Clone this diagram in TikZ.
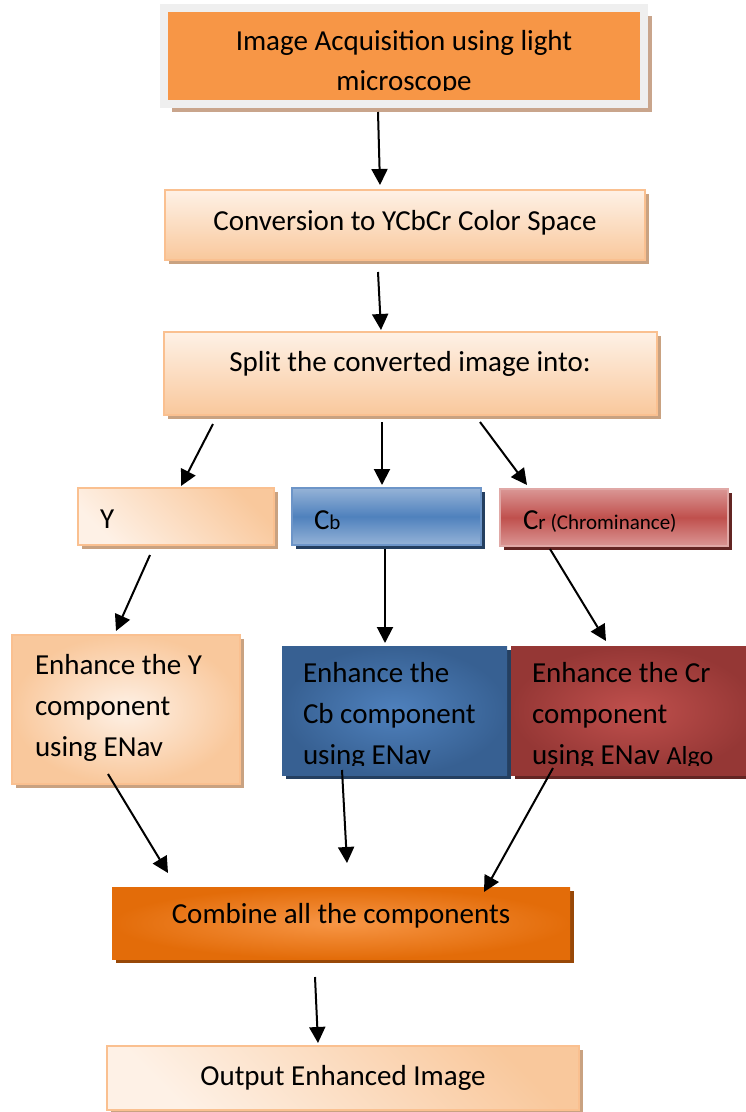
\documentclass[tikz,border=0pt]{standalone}
\usepackage{fontspec}
\setmainfont{Carlito}
\usetikzlibrary{arrows.meta,shadows,calc}
\definecolor{orgA}{HTML}{F79646}
\definecolor{orgB}{HTML}{E36C09}
\definecolor{orgS}{HTML}{984807}
\definecolor{frameC}{HTML}{EFEFEF}
\definecolor{frameS}{HTML}{C9A58C}
\definecolor{peachL}{HTML}{FEF1E6}
\definecolor{peachD}{HTML}{F9C89C}
\definecolor{peachB}{HTML}{FAC090}
\definecolor{peachS}{HTML}{C9A281}
\definecolor{blueL}{HTML}{95B3D7}
\definecolor{blueM}{HTML}{4F81BD}
\definecolor{blueD}{HTML}{376092}
\definecolor{blueB}{HTML}{6D95C8}
\definecolor{blueS}{HTML}{243F60}
\definecolor{redL}{HTML}{DA9694}
\definecolor{redM}{HTML}{C0504D}
\definecolor{redD}{HTML}{953735}
\definecolor{redB}{HTML}{E0A8A6}
\definecolor{redS}{HTML}{632523}
\newcommand\mylines[1]{\begin{tabular}[t]{@{}l@{}}#1\end{tabular}}
\newcommand\myclines[1]{\begin{tabular}[t]{@{}c@{}}#1\end{tabular}}
\newcommand\smallf{\fontsize{21}{24}\selectfont}
\newcommand\bigC{\fontsize{29}{38}\selectfont}
\begin{document}
\begin{tikzpicture}[x=1pt,y=-1pt,
  box/.style={rectangle,inner sep=0pt,outer sep=0pt,anchor=north west},
  sh/.style={general shadow={fill=#1,shadow xshift=4pt,shadow yshift=-4pt}},
  peachbox/.style={box,draw=peachB,line width=1.5pt,sh=peachS},
  peachv/.style={peachbox,top color=peachL,bottom color=peachD},
  peachdiag/.style={peachbox,top color=peachD,bottom color=peachL,shading angle=-45},
  peachrad/.style={peachbox,inner color=peachL,outer color=peachD},
  bluebar/.style={box,draw=blueB,line width=1.5pt,top color=blueL,bottom color=blueL,middle color=blueM,sh=blueS},
  redbar/.style={box,draw=redB,line width=1.5pt,top color=redL,bottom color=redL,middle color=redM,sh=redS},
  bluerad/.style={box,inner color=blueM,outer color=blueD,sh=blueS},
  redrad/.style={box,inner color=redM,outer color=redD,sh=redS},
  orgrad/.style={box,inner color=orgA,outer color=orgB,sh=orgS},
  txt/.style={inner sep=0pt,outer sep=0pt,font=\fontsize{29}{41}\selectfont},
  arr/.style={line width=2pt,-{Triangle[length=16pt,width=16pt]}},
]
\useasboundingbox (0,0) rectangle (746,1112);
\fill[white] (0,0) rectangle (746,1112);

% boxes
\node[box,fill=orgA,draw=frameC,line width=8pt,minimum width=480pt,minimum height=96pt,
  general shadow={fill=frameS,shadow xshift=8pt,shadow yshift=-8pt}] (top) at (164,8) {};
\node[peachv,minimum width=480pt,minimum height=70pt] (conv) at (165,190) {};
\node[peachv,minimum width=493pt,minimum height=83pt] (split) at (164,332) {};
\node[peachdiag,minimum width=196pt,minimum height=57pt] (ybox) at (78,488) {};
\node[bluebar,minimum width=189pt,minimum height=57pt] (cbbox) at (292,488) {};
\node[redbar,minimum width=228pt,minimum height=57pt] (crbox) at (500,489) {};
\node[peachrad,minimum width=228pt,minimum height=149pt] (enhy) at (12,635) {};
\node[bluerad,minimum width=225pt,minimum height=129pt] (enhcb) at (282,646) {};
\node[redrad,minimum width=245pt,minimum height=129pt] (enhcr) at (511,646) {};
\node[orgrad,minimum width=458pt,minimum height=72pt] (comb) at (112,887) {};
\node[peachdiag,minimum width=472pt,minimum height=64pt] (outp) at (107,1046) {};

% texts
\begin{scope}
  \clip (168,12) rectangle (640,90);
  \node[txt,anchor=base,font=\fontsize{29}{40}\selectfont] (toptext) at (404,50)
    {\myclines{Image Acquisition using light\\microscope}};
\end{scope}
\node[txt,anchor=base] (convtext) at (405,230) {Conversion to YCbCr Color Space};
\node[txt,anchor=base] (splittext) at (410,371) {Split the converted image into:};
\node[txt,anchor=base west] (ytext) at (100,528) {Y};
\node[txt,anchor=base west] (cbtext) at (314,529) {{\bigC C}{\smallf b}};
\node[txt,anchor=base west] (crtext) at (523,529) {{\bigC C}{\smallf r (Chrominance)}};
\node[txt,anchor=base west] (enhytext) at (35,674)
  {\mylines{Enhance the Y\\component\\using ENav}};
\begin{scope}
  \clip (282,646) rectangle (507,765);
  \node[txt,anchor=base west] (enhcbtext) at (303,682)
    {\mylines{Enhance the\\Cb component\\using ENav}};
\end{scope}
\begin{scope}
  \clip (511,646) rectangle (746,765);
  \node[txt,anchor=base west] (enhcrtext) at (532,682)
    {\mylines{Enhance the Cr\\component\\using ENav {\fontsize{26}{30}\selectfont Algo}}};
\end{scope}
\node[txt,anchor=base] (combtext) at (341,923) {Combine all the components};
\node[txt,anchor=base] (outptext) at (343,1085) {Output Enhanced Image};

% arrows
\draw[arr] ($(top.south west)+(214,8)$) -- ($(conv.north west)+(215,-5)$);
\draw[arr] ($(conv.south west)+(213,12)$) -- ($(split.north west)+(217,-2)$);
\draw[arr] ($(split.south west)+(49,9)$) -- ($(ybox.north west)+(103,-2)$);
\draw[arr] ($(split.south west)+(218,7)$) -- ($(cbbox.north west)+(90,-3)$);
\draw[arr] ($(split.south west)+(316,7)$) -- ($(crbox.north west)+(27,-4)$);
\draw[arr] ($(ybox.south west)+(72,10)$) -- ($(enhy.north west)+(104,-4)$);
\draw[arr] ($(cbbox.south west)+(93,4)$) -- ($(enhcb.north west)+(103,-3)$);
\draw[arr] ($(crbox.south west)+(50,3)$) -- ($(enhcr.north west)+(95,-5)$);
\draw[arr] ($(enhy.south west)+(96,-10)$) -- ($(comb.north west)+(56,-14)$);
\draw[arr] ($(enhcb.south west)+(60,-5)$) -- ($(comb.north west)+(235,-24)$);
\draw[arr] ($(enhcr.south west)+(42,-7)$) -- ($(comb.north west)+(372,5)$);
\draw[arr] ($(comb.south west)+(203,18)$) -- ($(outp.north west)+(211,-3)$);
\end{tikzpicture}
\end{document}
